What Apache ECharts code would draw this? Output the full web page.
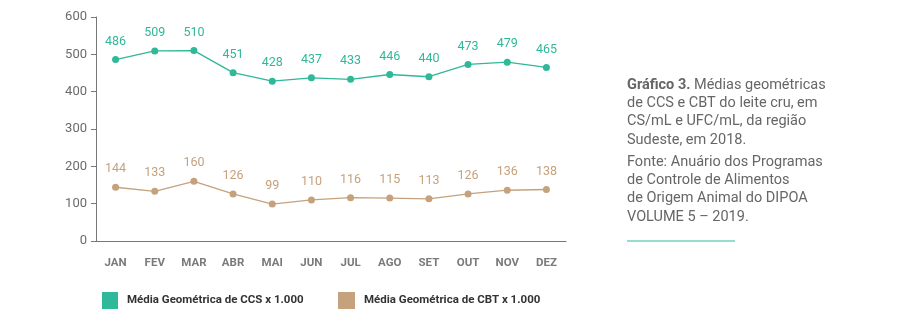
<!DOCTYPE html>
<html><head><meta charset="utf-8">
<script src="https://cdn.jsdelivr.net/npm/echarts@6/dist/echarts.min.js"></script>
<style>html,body{margin:0;padding:0;background:#fff}#c{width:912px;height:327px}</style>
</head><body><div id="c"></div>
<script>
const months = ['JAN','FEV','MAR','ABR','MAI','JUN','JUL','AGO','SET','OUT','NOV','DEZ'];
const ccs = [486,509,510,451,428,437,433,446,440,473,479,465];
const cbt = [144,133,160,126,99,110,116,115,113,126,136,138];
const yTicks = [0,100,200,300,400,500,600];
const seriesNames = ['Média Geométrica de CCS x 1.000','Média Geométrica de CBT x 1.000'];
const green = '#2fb899', tan = '#c5a27d';
const FONT = 'Roboto';
const chart = echarts.init(document.getElementById('c'));
chart.setOption({
  animation:false,
  textStyle:{fontFamily:FONT},
  grid:{left:96,right:346,top:17,bottom:86},
  legend:[
    {data:[seriesNames[0]],left:97,top:287,itemWidth:16,itemHeight:17,icon:'rect',itemGap:0,
     textStyle:{fontFamily:FONT,fontWeight:'bold',fontSize:11.5,color:'#333',padding:[0,0,0,4]}},
    {data:[seriesNames[1]],left:333,top:287,itemWidth:17,itemHeight:17,icon:'rect',itemGap:0,
     textStyle:{fontFamily:FONT,fontWeight:'bold',fontSize:11.5,color:'#333',padding:[0,0,0,4]}}
  ],
  xAxis:{type:'category',data:months,boundaryGap:true,
    axisLine:{lineStyle:{color:'#777',width:1}},axisTick:{show:false},
    axisLabel:{color:'#7a7a7a',fontWeight:'bold',fontSize:11.5,margin:16}},
  yAxis:{type:'value',min:0,max:600,interval:100,
    axisLine:{show:true,lineStyle:{color:'#777',width:1}},
    axisTick:{show:true,length:5,lineStyle:{color:'#777'}},
    splitLine:{show:false},
    axisLabel:{color:'#6b6b6b',fontSize:13,margin:9,formatter:v=>yTicks.includes(v)?String(v):''}},
  series:[
    {name:seriesNames[0],type:'line',data:ccs,color:green,symbol:'circle',symbolSize:7,
     lineStyle:{width:1.3,color:green},itemStyle:{color:green},
     label:{show:true,position:'top',distance:8,color:green,fontSize:12.5}},
    {name:seriesNames[1],type:'line',data:cbt,color:tan,symbol:'circle',symbolSize:7,
     lineStyle:{width:1.3,color:tan},itemStyle:{color:tan},
     label:{show:true,position:'top',distance:8,color:tan,fontSize:12.5}}
  ],
  graphic:[
    {type:'text',left:627,top:76,style:{
      text:'{b|Gráfico 3.} Médias geométricas\nde CCS e CBT do leite cru, em\nCS/mL e UFC/mL, da região\nSudeste, em 2018.',
      font:'14.5px '+FONT,fill:'#666',lineHeight:18.3,
      rich:{b:{fontWeight:'bold',fontSize:14.5,fill:'#666',fontFamily:FONT}}}},
    {type:'text',left:627,top:153,style:{
      text:'Fonte: Anuário dos Programas\nde Controle de Alimentos\nde Origem Animal do DIPOA\nVOLUME 5 – 2019.',
      font:'14.5px '+FONT,fill:'#666',lineHeight:18.3}},
    {type:'line',shape:{x1:627,y1:241,x2:735,y2:241},style:{stroke:'#2fb899',lineWidth:1}}
  ]
});
</script></body></html>
